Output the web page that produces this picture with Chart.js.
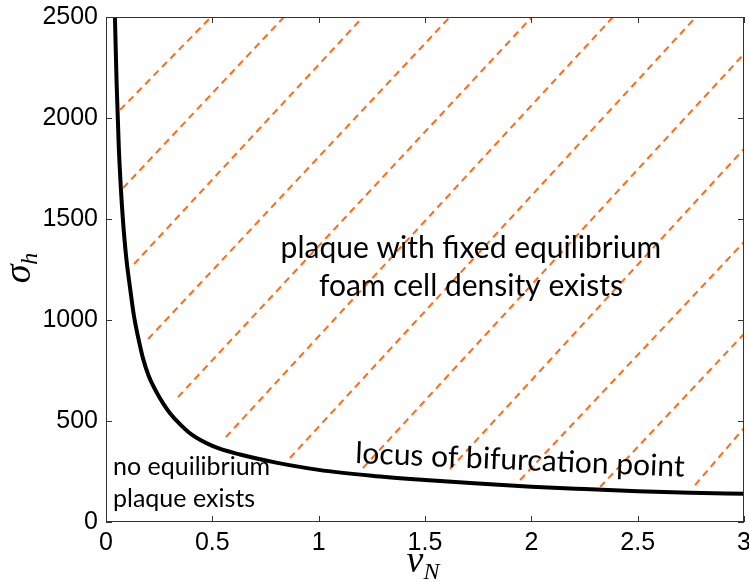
<!DOCTYPE html>
<html>
<head>
<meta charset="utf-8">
<script src="https://cdn.jsdelivr.net/npm/chart.js"></script>
<style>
  html, body { margin: 0; padding: 0; background: #fff; }
  #wrap { width: 749px; height: 582px; }
</style>
</head>
<body>
<div id="wrap"><canvas id="c" width="749" height="582"></canvas></div>
<script>
// locus of the bifurcation point
const curveNu    = [0.042, 0.05, 0.06, 0.07, 0.08, 0.095, 0.113, 0.13, 0.144, 0.16, 0.174, 0.2, 0.24, 0.27, 0.3, 0.35, 0.4, 0.5, 0.63, 0.8, 1.0, 1.25, 1.5, 1.75, 2.0, 2.25, 2.5, 2.75, 3.0];
const curveSigma = [2500, 2170, 1860, 1650, 1490, 1310, 1160, 1030, 950, 872, 810, 725, 638, 585, 540, 482, 435, 377, 334, 294, 258, 229, 208, 190, 175, 163, 152, 145, 140];

// dashed hatching: lower end and upper end of each segment
const hatchStartNu    = [0.066, 0.080, 0.132, 0.198, 0.339, 0.564, 0.865, 1.208, 1.617, 1.947, 2.323, 2.770];
const hatchStartSigma = [2040, 1653, 1277, 906, 619, 421, 317, 267, 262, 208, 173, 183];
const hatchEndNu      = [0.494, 0.837, 1.208, 1.617, 2.003, 2.384, 2.774, 3, 3, 3, 3, 3];
const hatchEndSigma   = [2500, 2500, 2500, 2500, 2500, 2500, 2500, 2317, 1847, 1386, 931, 465];

const xTicks = [0, 0.5, 1, 1.5, 2, 2.5, 3];
const yTicks = [0, 500, 1000, 1500, 2000, 2500];

const datasets = [];
hatchStartNu.forEach((nu, i) => {
    datasets.push({
        data: [{ x: nu, y: hatchStartSigma[i] }, { x: hatchEndNu[i], y: hatchEndSigma[i] }],
        borderColor: '#ff6a13',
        borderWidth: 2,
        borderDash: [7, 5],
        pointRadius: 0
    });
});
datasets.push({
    data: curveNu.map((x, i) => ({ x: x, y: curveSigma[i] })),
    borderColor: '#000',
    borderWidth: 4,
    pointRadius: 0,
    cubicInterpolationMode: 'monotone'
});

// frame with inward ticks, annotations and axis titles
const decor = {
    id: 'decor',
    afterDraw(chart) {
        const ctx = chart.ctx;
        const a = chart.chartArea;
        const xs = chart.scales.x, ys = chart.scales.y;
        ctx.save();
        ctx.strokeStyle = '#333';
        ctx.lineWidth = 1;
        ctx.strokeRect(a.left + 0.5, a.top + 0.5, a.right - a.left - 1, a.bottom - a.top - 1);
        ctx.beginPath();
        xTicks.forEach(v => {
            const p = Math.round(xs.getPixelForValue(v)) + 0.5;
            ctx.moveTo(p, a.bottom); ctx.lineTo(p, a.bottom - 6);
            ctx.moveTo(p, a.top); ctx.lineTo(p, a.top + 6);
        });
        yTicks.forEach(v => {
            const p = Math.round(ys.getPixelForValue(v)) + 0.5;
            ctx.moveTo(a.left, p); ctx.lineTo(a.left + 6, p);
            ctx.moveTo(a.right, p); ctx.lineTo(a.right - 6, p);
        });
        ctx.stroke();

        ctx.fillStyle = '#000';
        ctx.textBaseline = 'alphabetic';
        ctx.textAlign = 'center';
        ctx.font = '30px Lato';
        ctx.fillText('plaque with fixed equilibrium', xs.getPixelForValue(1.716), ys.getPixelForValue(1307));
        ctx.fillText('foam cell density exists', xs.getPixelForValue(1.716), ys.getPixelForValue(1119));

        ctx.save();
        ctx.translate(xs.getPixelForValue(1.171), ys.getPixelForValue(292));
        ctx.rotate(2.4 * Math.PI / 180);
        ctx.textAlign = 'left';
        ctx.fillText('locus of bifurcation point', 0, 0);
        ctx.restore();

        ctx.textAlign = 'left';
        ctx.font = '25px Lato';
        ctx.fillText('no equilibrium', xs.getPixelForValue(0.033), ys.getPixelForValue(232));
        ctx.fillText('plaque exists', xs.getPixelForValue(0.033), ys.getPixelForValue(75));

        // axis titles
        const big = 'italic 38px "Liberation Serif"', sub = 'italic 24px "Liberation Serif"';
        ctx.font = big; const wn = ctx.measureText('\u03bd').width;
        ctx.font = sub; const wN = ctx.measureText('N').width;
        const cx = (a.left + a.right) / 2 - 2;
        ctx.font = big; ctx.fillText('\u03bd', cx - (wn + wN) / 2, 572);
        ctx.font = sub; ctx.fillText('N', cx - (wn + wN) / 2 + wn, 579);

        ctx.save();
        ctx.translate(30, 268);
        ctx.rotate(-Math.PI / 2);
        ctx.font = big; const ws = ctx.measureText('\u03c3').width;
        ctx.font = sub; const wh = ctx.measureText('h').width;
        ctx.font = big; ctx.fillText('\u03c3', -(ws + wh) / 2, 0);
        ctx.font = sub; ctx.fillText('h', -(ws + wh) / 2 + ws, 7);
        ctx.restore();
        ctx.restore();
    }
};

const tickFont = { family: '"Liberation Sans", Arial, sans-serif', size: 25 };

new Chart(document.getElementById('c'), {
    type: 'line',
    data: { datasets: datasets },
    options: {
        responsive: false,
        animation: false,
        layout: { padding: { top: 17, right: 5, left: 0, bottom: 0 } },
        plugins: { legend: { display: false }, tooltip: { enabled: false } },
        scales: {
            x: {
                type: 'linear', min: 0, max: 3,
                afterBuildTicks: s => { s.ticks = xTicks.map(v => ({ value: v })); },
                grid: { display: false, drawTicks: false },
                border: { display: false },
                ticks: { color: '#000', font: tickFont, padding: 6, maxRotation: 0, autoSkip: false, callback: v => String(v) },
                afterFit: s => { s.height = 60; s.paddingLeft = 0; s.paddingRight = 0; }
            },
            y: {
                type: 'linear', min: 0, max: 2500,
                afterBuildTicks: s => { s.ticks = yTicks.map(v => ({ value: v })); },
                grid: { display: false, drawTicks: false },
                border: { display: false },
                ticks: { color: '#000', font: tickFont, padding: 8, callback: v => String(v) },
                afterFit: s => { s.width = 106; s.paddingTop = 0; s.paddingBottom = 0; }
            }
        }
    },
    plugins: [decor]
});
</script>
</body>
</html>
